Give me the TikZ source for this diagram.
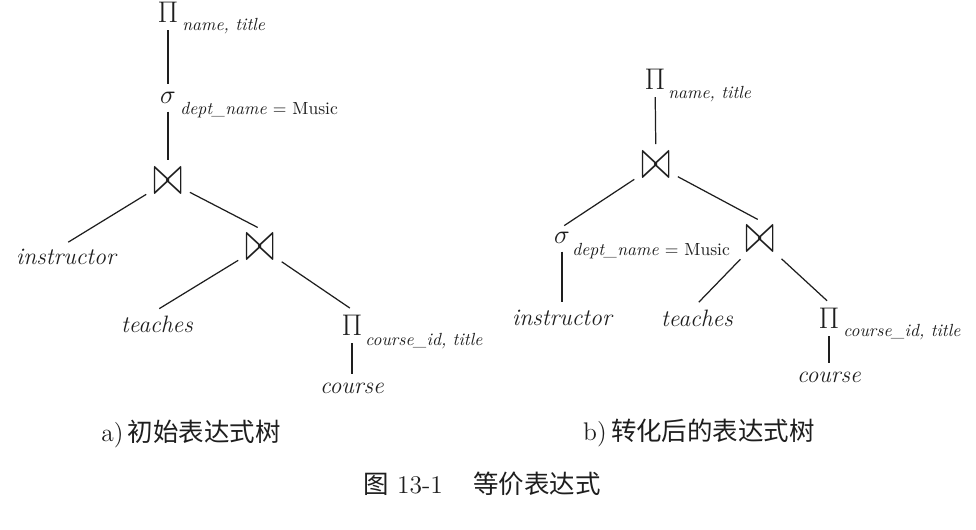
\documentclass[tikz,border=0pt]{standalone}
\usepackage{fix-cm}
\usepackage{amsmath}
\usepackage{graphicx}
\usepackage{fontspec}
\newfontfamily\cjk{Noto Sans CJK SC}
\usetikzlibrary{positioning}
\definecolor{ink}{RGB}{30,30,30}
\newcommand{\tallbowtie}{\scalebox{1}[1.6]{$\bowtie$}}

\begin{document}
\begin{tikzpicture}[
    x=0.02cm, y=-0.02cm,
    % node styles
    op/.style = {inner sep=3pt, outer sep=0pt, text=ink},
    prj/.style = {op, font=\fontsize{17}{19}\selectfont},
    sel/.style = {op, font=\fontsize{15}{17}\selectfont},
    jn/.style = {op, font=\fontsize{20}{22}\selectfont},
    rel/.style = {inner sep=3pt, text=ink, font=\fontsize{13.5}{15}\selectfont\itshape},
    sub/.style = {inner sep=0pt, text=ink, font=\fontsize{10}{12}\selectfont\itshape},
    captext/.style = {inner sep=0pt, text=ink, font=\fontsize{14.5}{17}\selectfont},
    % edge style
    tie/.style = {draw=ink, line width=0.7pt, shorten <=1.5pt, shorten >=1.5pt}
  ]
  \useasboundingbox (0,0) rectangle (976,530);

  % --- a) initial tree
  \node[prj] (projA) at (168,12) {$\Pi$};
  \node[sub, anchor=base west] (projAsub) at (182,31) {name, title};
  \node[sel] (selA) at (168,98) {$\sigma$};
  \node[sub, anchor=base west] (selAsub) at (180,115) {dept\_name {\upshape = Music}};
  \node[jn] (joinA) at (168,181) {\tallbowtie};
  \node[rel] (instrA) at (66,257) {instructor};
  \node[jn] (joinB) at (260,247) {\tallbowtie};
  \node[rel] (teachA) at (157,324) {teaches};
  \node[prj] (projB) at (352,325) {$\Pi$};
  \node[sub, anchor=base west] (projBsub) at (365,345) {course\_id, title};
  \node[rel] (courseA) at (352,388) {course};
  \node[captext] (capA) at (191,434) {a)\,{\cjk 初始表达式树}};

  % --- b) transformed tree
  \node[prj] (projC) at (655,79) {$\Pi$};
  \node[sub, anchor=base west] (projCsub) at (668,99) {name, title};
  \node[jn] (joinC) at (656,165) {\tallbowtie};
  \node[sel] (selB) at (562,238) {$\sigma$};
  \node[sub, anchor=base west] (selBsub) at (572,255) {dept\_name {\upshape = Music}};
  \node[rel] (instrB) at (562,318) {instructor};
  \node[jn] (joinD) at (760,239) {\tallbowtie};
  \node[rel] (teachB) at (697,318) {teaches};
  \node[prj] (projD) at (829,318) {$\Pi$};
  \node[sub, anchor=base west] (projDsub) at (843,336) {course\_id, title};
  \node[rel] (courseB) at (829,377) {course};
  \node[captext] (capB) at (699,433) {b)\,{\cjk 转化后的表达式树}};

  % --- figure caption
  \node[captext, anchor=west] (figcap) at (363,484) {{\cjk 图}\ 13-1\hspace{1.2em}{\cjk 等价表达式}};

  % --- Edges
  \draw[tie] (projA) -- (selA);
  \draw[tie] (selA) -- (joinA);
  \draw[tie] (joinA) -- (instrA.north);
  \draw[tie] (joinA) -- (joinB.north);
  \draw[tie] (joinB) -- (teachA.north);
  \draw[tie] (joinB) -- (projB.north);
  \draw[tie] (projB) -- (courseA);

  \draw[tie] (projC) -- (joinC);
  \draw[tie] (joinC) -- (selB.north);
  \draw[tie] (joinC) -- (joinD.north);
  \draw[tie] (selB) -- (instrB);
  \draw[tie] (joinD) -- (teachB.north);
  \draw[tie] (joinD) -- (projD.north);
  \draw[tie] (projD) -- (courseB);

\end{tikzpicture}
\end{document}
